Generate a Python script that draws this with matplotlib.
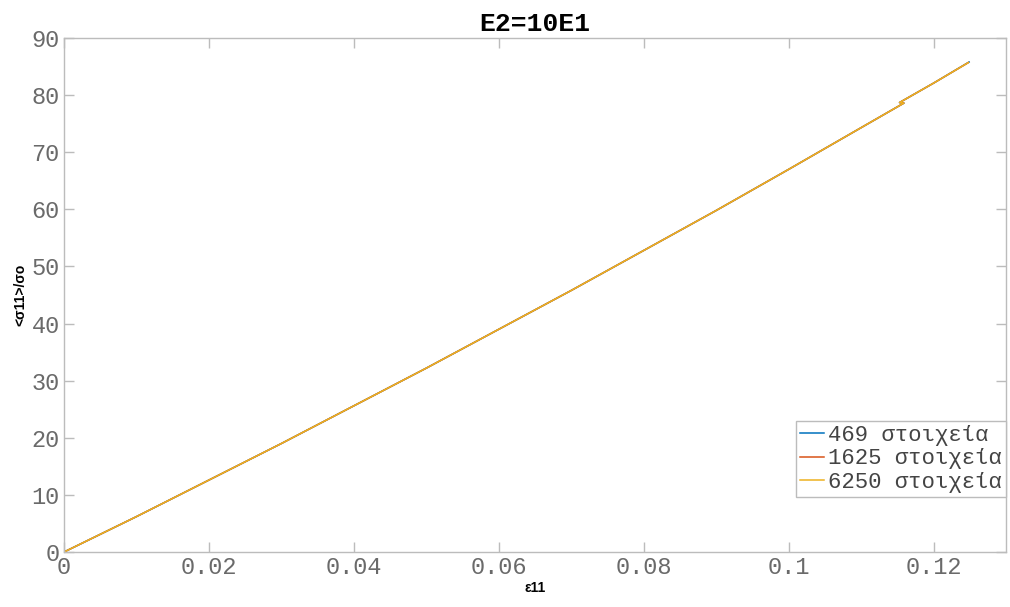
import numpy as np
import matplotlib.pyplot as plt

# strain / normalised stress curves for three mesh sizes
eps_469 = [0, 0.01, 0.02, 0.03, 0.04, 0.05, 0.06, 0.07, 0.08, 0.09, 0.10,
           0.11, 0.1159, 0.1153, 0.1200, 0.1249]
sig_469 = [0, 6.2, 12.6, 19.0, 25.6, 32.2, 39.0, 45.8, 52.8, 59.8, 67.0,
           74.3, 78.6, 78.7, 82.1, 85.8]

eps_1625 = [0, 0.01, 0.02, 0.03, 0.04, 0.05, 0.06, 0.07, 0.08, 0.09, 0.10,
            0.11, 0.1159, 0.1153, 0.1200, 0.1248]
sig_1625 = [0, 6.2, 12.6, 19.0, 25.6, 32.2, 39.0, 45.8, 52.8, 59.8, 67.0,
            74.3, 78.6, 78.7, 82.1, 85.7]

eps_6250 = [0, 0.01, 0.02, 0.03, 0.04, 0.05, 0.06, 0.07, 0.08, 0.09, 0.10,
            0.11, 0.1159, 0.1153, 0.1200, 0.1248]
sig_6250 = [0, 6.2, 12.6, 19.0, 25.6, 32.2, 39.0, 45.8, 52.8, 59.8, 67.0,
            74.3, 78.6, 78.7, 82.1, 85.7]

labels = ['469 στοιχεία', '1625 στοιχεία', '6250 στοιχεία']
colors = ['#0072bd', '#d95319', '#edb120']

grey = '#bcbcbc'
tick_col = '#6a6a6a'
mono = 'Liberation Mono'

fig = plt.figure(figsize=(10.10, 6.07), dpi=100)
ax = fig.add_axes([0.0634, 0.0906, 0.9327, 0.8468])

ax.plot(eps_469, sig_469, color=colors[0], lw=1.1, label=labels[0])
ax.plot(eps_1625, sig_1625, color=colors[1], lw=1.1, label=labels[1])
ax.plot(eps_6250, sig_6250, color=colors[2], lw=1.1, label=labels[2])

ax.set_xlim(0, 0.13)
ax.set_ylim(0, 90)
ax.set_xticks([0, 0.02, 0.04, 0.06, 0.08, 0.1, 0.12])
ax.set_xticklabels(['0', '0.02', '0.04', '0.06', '0.08', '0.1', '0.12'])
ax.set_yticks(range(0, 91, 10))

for s in ax.spines.values():
    s.set_color(grey)
    s.set_linewidth(1.0)
ax.tick_params(direction='in', top=True, right=True, length=7, width=1,
               color=grey, labelcolor=tick_col, labelsize=17, pad=3)
for t in ax.get_xticklabels() + ax.get_yticklabels():
    t.set_family(mono)

ax.set_title('E2=10E1', fontsize=19, fontweight='bold', family=mono, pad=5)
ax.set_xlabel('ε11', fontsize=10, fontweight='bold',
              family='Liberation Sans', labelpad=1)
ax.set_ylabel('<σ11>/σo', fontsize=10, fontweight='bold',
              family='Liberation Sans', labelpad=3)

leg = ax.legend(loc='lower right', bbox_to_anchor=(1.0, 0.107),
                prop={'family': mono, 'size': 16},
                handlelength=1.1, handletextpad=0.15, borderpad=0.2,
                labelspacing=0.1, borderaxespad=0, fancybox=False,
                framealpha=1)
leg.get_frame().set_edgecolor(grey)
leg.get_frame().set_linewidth(1.0)
for t in leg.get_texts():
    t.set_color('#444444')

fig.savefig('out.png', dpi=100)
